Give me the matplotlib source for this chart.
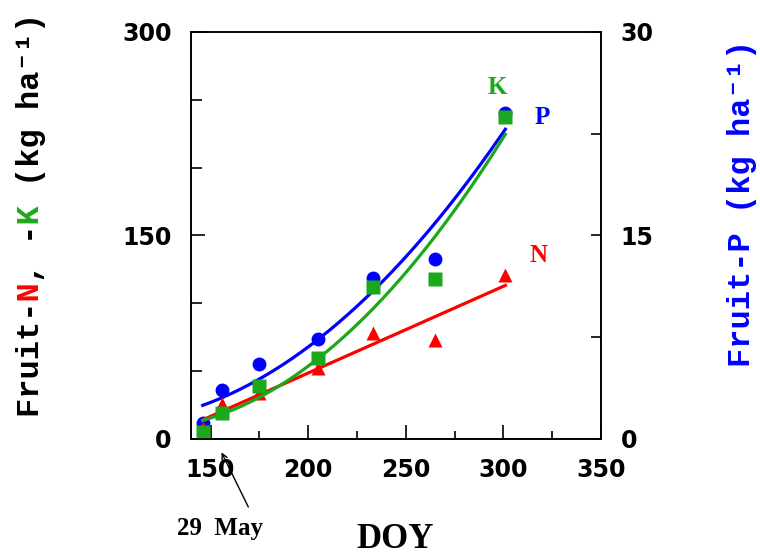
import numpy as np
import matplotlib
matplotlib.use('Agg')
import matplotlib.pyplot as plt

# fruit nutrient accumulation vs day of year
doy = [146, 156, 175, 205, 233, 265, 301]
fruit_n = [8, 26, 34, 52, 78, 73, 121]
fruit_k = [5.4, 19.4, 39.1, 60, 112.3, 117.7, 237.5]
fruit_p = [1.2, 3.6, 5.5, 7.4, 11.9, 13.3, 24.0]

x_ticks = [150, 200, 250, 300, 350]
left_ticks = [0, 150, 300]
right_ticks = [0, 15, 30]

red = '#ff0000'
green = '#1ca81c'
blue = '#0000ff'

plt.rcParams['font.family'] = 'DejaVu Sans'
plt.rcParams['font.weight'] = 'bold'

fig = plt.figure(figsize=(7.6, 5.58), dpi=100)
ax = fig.add_axes([0.2513, 0.2133, 0.5395, 0.7294])
ax2 = ax.twinx()
ax.set_zorder(ax2.get_zorder() + 1)
ax.patch.set_visible(False)

# regression curves from the points
xs = np.linspace(min(doy), max(doy), 200)
n_fit = np.polyfit(doy, fruit_n, 1)
k_fit = np.polyfit(doy, fruit_k, 2)
p_fit = np.polyfit(doy, fruit_p, 2)

ax2.plot(doy, fruit_p, 'o', color=blue, ms=10, mec='none', clip_on=False)
ax2.plot(xs, np.polyval(p_fit, xs), color=blue, lw=2.3)

ax.plot(xs, np.polyval(n_fit, xs), color=red, lw=2.3)
ax.plot(doy, fruit_n, '^', color=red, ms=10, mec='none', clip_on=False)
ax.plot(xs, np.polyval(k_fit, xs), color=green, lw=2.3)
ax.plot(doy, fruit_k, 's', color=green, ms=9.5, mec='none', clip_on=False)

ax.set_xlim(140, 350)
ax.set_ylim(0, 300)
ax.set_xticks(x_ticks)
ax.set_xticks([175, 225, 275, 325], minor=True)
ax.set_yticks(left_ticks)
ax.set_yticks([50, 100, 200, 250], minor=True)
ax.tick_params(which='both', direction='in', top=False, right=False, width=1.2)
ax.tick_params(which='major', length=10, labelsize=17, pad=14)
ax.tick_params(axis='y', which='minor', length=8)
ax.tick_params(axis='x', which='minor', length=6)

ax2.set_ylim(0, 30)
ax2.set_yticks(right_ticks)
ax2.set_yticks([7.5, 22.5], minor=True)
ax2.tick_params(which='both', direction='in', length=7, width=1.2,
                labelsize=17, pad=14)

for a in (ax, ax2):
    for s in a.spines.values():
        s.set_linewidth(1.2)

serif = dict(family='Liberation Serif', fontweight='bold')
ax.text(297, 259, 'K', color=green, fontsize=18, ha='center', va='center', **serif)
ax.text(320, 237, 'P', color=blue, fontsize=18, ha='center', va='center', **serif)
ax.text(318, 135, 'N', color=red, fontsize=18, ha='center', va='center', **serif)

ax.annotate('', xy=(155, -8), xytext=(170, -52), annotation_clip=False,
            arrowprops=dict(arrowstyle='->', lw=1, color='black'))
fig.text(220 / 760, 1 - 529 / 558, '29  May', ha='center', va='center',
         fontsize=18, **serif)
fig.text(395 / 760, 1 - 540 / 558, 'DOY', ha='center', va='center',
         fontsize=25, **serif)

# y labels, monospace so coloured letters can be overlaid
mono = dict(family=['Liberation Mono', 'DejaVu Sans Mono'], fontweight='bold',
            fontsize=23, rotation=90, rotation_mode='anchor', ha='left', va='center')
lx, ly = 31 / 760, 1 - 417 / 558
fig.text(lx, ly, 'Fruit- , -  (kg ha\u207b\u00b9)', color='black', **mono)
fig.text(lx, ly, '      N', color=red, **mono)
fig.text(lx, ly, '          K', color=green, **mono)
fig.text(742 / 760, 1 - 367 / 558, 'Fruit-P (kg ha\u207b\u00b9)', color=blue, **mono)

fig.savefig('out.png', dpi=100)
